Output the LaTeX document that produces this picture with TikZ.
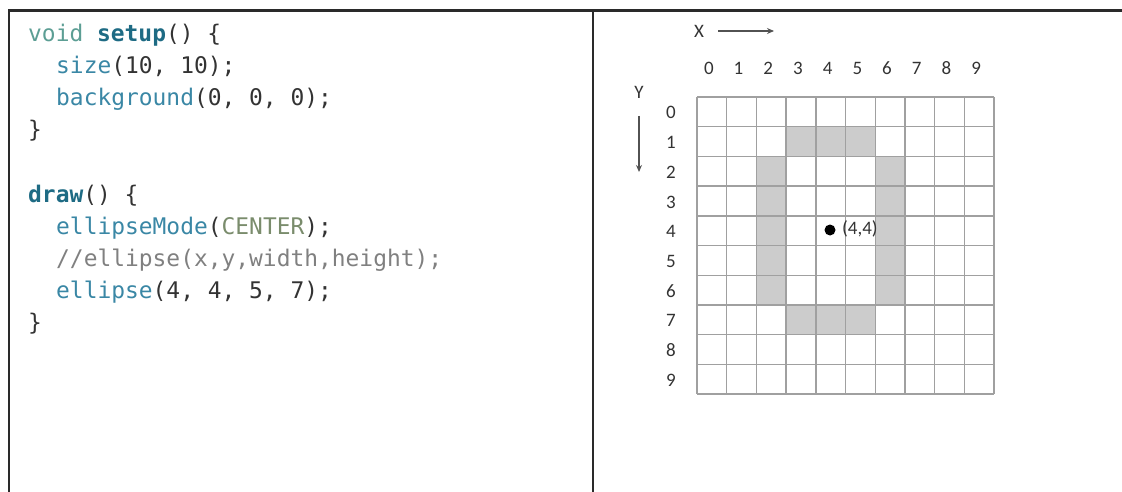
\documentclass[tikz,border=0pt]{standalone}
\usepackage{fontspec}
\newfontfamily\codefont{DejaVu Sans Mono}
\newfontfamily\labfont{Carlito}
\usetikzlibrary{arrows.meta}
\definecolor{kwvoid}{HTML}{5C9E94}
\definecolor{kwfn}{HTML}{1E6B84}
\definecolor{fncall}{HTML}{3A87A5}
\definecolor{plain}{HTML}{333333}
\definecolor{constc}{HTML}{7A8C6C}
\definecolor{commc}{HTML}{808080}
\definecolor{cellgray}{HTML}{CCCCCC}
\definecolor{gridc}{HTML}{A0A0A0}
\definecolor{framec}{HTML}{2A2A2A}
\tikzset{
  codeline/.style={anchor=base west, inner sep=0pt, font=\codefont\fontsize{22.9}{26}\selectfont, text=plain},
  numlab/.style={inner sep=0pt, font=\labfont\fontsize{19}{21}\selectfont, text=plain},
  framepen/.style={line width=2.4pt, draw=framec},
  axisarrow/.style={draw=plain!85, line width=1.4pt, -{Stealth[length=7pt,width=6pt]}}
}
\begin{document}
\begin{tikzpicture}[x=1pt,y=-1pt]
\useasboundingbox (0,0) rectangle (1122,492);
% frame
\draw[framepen] (8,10.5) -- (1122,10.5);
\draw[framepen] (9,10.5) -- (9,492);
\draw[framepen] (593,10.5) -- (593,492);
% code
\node[codeline] (l1) at (28,42) {\textcolor{kwvoid}{void} \textcolor{kwfn}{\bfseries setup}() \{};
\node[codeline] (l2) at (56,74) {\textcolor{fncall}{size}(10, 10);};
\node[codeline] (l3) at (56,106) {\textcolor{fncall}{background}(0, 0, 0);};
\node[codeline] (l4) at (28,138) {\}};
\node[codeline] (l5) at (28,202) {\textcolor{kwfn}{\bfseries draw}() \{};
\node[codeline] (l6) at (56,234) {\textcolor{fncall}{ellipseMode}(\textcolor{constc}{CENTER});};
\node[codeline] (l7) at (56,266) {\textcolor{commc}{//ellipse(x,y,width,height);}};
\node[codeline] (l8) at (56,298) {\textcolor{fncall}{ellipse}(4, 4, 5, 7);};
\node[codeline] (l9) at (28,330) {\}};
% grid
\def\gx{697}\def\gy{97}\def\cs{29.7}
\foreach \c/\r in {3/1,4/1,5/1,3/7,4/7,5/7,2/2,2/3,2/4,2/5,2/6,6/2,6/3,6/4,6/5,6/6}{
  \fill[cellgray] ({\gx+\c*\cs},{\gy+\r*\cs}) rectangle ++(\cs,\cs);
}
\foreach \i in {0,...,10}{
  \draw[gridc, line width=1.4pt] ({\gx+\i*\cs},\gy) -- ({\gx+\i*\cs},{\gy+10*\cs});
  \draw[gridc, line width=1.4pt] (\gx,{\gy+\i*\cs}) -- ({\gx+10*\cs},{\gy+\i*\cs});
}
\foreach \i in {0,...,9}{
  \node[numlab] (cx\i) at ({\gx+(\i+0.5)*\cs-3},68) {\i};
  \node[numlab] (ry\i) at (671,{\gy+(\i+0.5)*\cs+1}) {\i};
}
% axes
\node[numlab] (xl) at (699,31) {X};
\coordinate (xa0) at (718,31);
\coordinate (xa1) at (774,31);
\draw[axisarrow] (xa0) -- (xa1);
\node[numlab] (yl) at (639,92) {Y};
\coordinate (ya0) at (639,116);
\coordinate (ya1) at (639,172);
\draw[axisarrow] (ya0) -- (ya1);
% point
\fill[black] (830,230) circle (5.5);
\node[numlab, anchor=west] (pl) at (842,229) {(4,4)};
\end{tikzpicture}
\end{document}
